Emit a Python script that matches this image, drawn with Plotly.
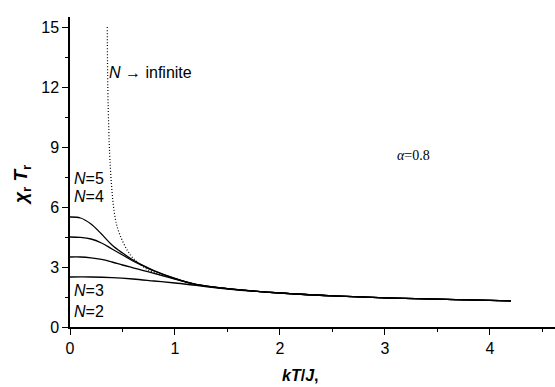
import plotly.graph_objects as go

# Data
x_n2 = [0.0, 0.2, 0.4, 0.6, 0.8, 1.0, 1.2, 1.5, 2.0, 2.5, 3.0, 3.5, 4.0, 4.2]
y_n2 = [2.5, 2.5, 2.47, 2.4, 2.3, 2.2, 2.08, 1.9, 1.7, 1.56, 1.46, 1.39, 1.33, 1.31]

x_n3 = [0.0, 0.1, 0.2, 0.3, 0.4, 0.5, 0.6, 0.7, 0.8, 1.0, 1.2, 1.5, 2.0, 2.5, 3.0, 3.5, 4.0, 4.2]
y_n3 = [3.5, 3.5, 3.46, 3.38, 3.25, 3.1, 2.96, 2.82, 2.68, 2.4, 2.12, 1.92, 1.7, 1.56, 1.46, 1.39, 1.33, 1.31]

x_n4 = [0.0, 0.1, 0.2, 0.3, 0.4, 0.5, 0.6, 0.7, 0.8, 1.0, 1.2, 1.5, 2.0, 2.5, 3.0, 3.5, 4.0, 4.2]
y_n4 = [4.5, 4.48, 4.4, 4.2, 3.9, 3.6, 3.3, 3.05, 2.8, 2.42, 2.13, 1.92, 1.7, 1.56, 1.46, 1.39, 1.33, 1.31]

x_n5 = [0.0, 0.1, 0.2, 0.3, 0.4, 0.5, 0.6, 0.7, 0.8, 1.0, 1.2, 1.5, 2.0, 2.5, 3.0, 3.5, 4.0, 4.2]
y_n5 = [5.5, 5.45, 5.15, 4.65, 4.1, 3.7, 3.35, 3.07, 2.82, 2.43, 2.13, 1.92, 1.7, 1.56, 1.46, 1.39, 1.33, 1.31]

x_inf = [0.355, 0.36, 0.37, 0.38, 0.40, 0.42, 0.45, 0.50, 0.55, 0.60, 0.70, 0.80, 1.0, 1.2, 1.5, 2.0, 2.5, 3.0, 3.5, 4.0, 4.2]
y_inf = [15.0, 12.0, 9.8, 8.4, 6.8, 5.8, 5.0, 4.3, 3.8, 3.45, 3.0, 2.72, 2.4, 2.13, 1.92, 1.7, 1.56, 1.46, 1.39, 1.33, 1.31]

x_ticks = [0, 1, 2, 3, 4]
y_ticks = [0, 3, 6, 9, 12, 15]

fig = go.Figure()
for xs, ys in [(x_n2, y_n2), (x_n3, y_n3), (x_n4, y_n4), (x_n5, y_n5)]:
    fig.add_trace(go.Scatter(x=xs, y=ys, mode="lines",
                             line=dict(shape="spline", color="black", width=1.3),
                             showlegend=False, hoverinfo="skip"))
fig.add_trace(go.Scatter(x=x_inf, y=y_inf, mode="lines",
                         line=dict(color="black", width=1.2, dash="1px,2px", shape="spline"),
                         showlegend=False, hoverinfo="skip"))

tickfont = dict(family="Liberation Sans, Arial, sans-serif", size=16, color="black")
fig.update_layout(
    width=555, height=387,
    margin=dict(l=70, r=0, t=17, b=60),
    paper_bgcolor="white", plot_bgcolor="white",
    xaxis=dict(range=[0, 4.62], tickvals=x_ticks, ticks="outside", ticklen=6, tickwidth=1.3,
               tickcolor="black", showline=True, linecolor="black", linewidth=1.5,
               showgrid=False, zeroline=False, tickfont=tickfont,
               minor=dict(dtick=0.5, ticks="outside", ticklen=3, tickcolor="black", tickwidth=1.2)),
    yaxis=dict(range=[0, 15.5], tickvals=y_ticks, ticks="outside", ticklen=6, tickwidth=1.3,
               tickcolor="black", showline=True, linecolor="black", linewidth=1.5,
               showgrid=False, zeroline=False, tickfont=tickfont,
               minor=dict(dtick=1.5, ticks="outside", ticklen=3, tickcolor="black", tickwidth=1.2)),
)

lab = dict(family="Liberation Sans, Arial, sans-serif", size=16, color="black")
def ann(x, y, text, font=lab):
    fig.add_annotation(x=x, y=y, xref="x", yref="y", text=text, showarrow=False,
                       xanchor="left", yanchor="middle", font=font)

ann(0.02, 7.45, "<i>N</i>=5")
ann(0.02, 6.55, "<i>N</i>=4")
ann(0.02, 1.85, "<i>N</i>=3")
ann(0.02, 0.8, "<i>N</i>=2")
ann(0.35, 12.75, "<i>N</i> \u2192 infinite")
ann(3.1, 8.6, "<i>\u03b1</i>=0.8",
    font=dict(family="Liberation Serif, Times New Roman, serif", size=14, color="black"))

fig.add_annotation(x=(300 - 70) / 485, y=-(376 - 327) / 310, xref="paper", yref="paper",
                   text="<b><i>kT</i>/<i>J</i>,</b>", showarrow=False,
                   xanchor="center", yanchor="middle",
                   font=dict(family="Liberation Sans, Arial, sans-serif", size=16, color="black"))
fig.add_annotation(x=-(70 - 22) / 485, y=(327 - 185) / 310, xref="paper", yref="paper",
                   text="<b><i>\u03c7</i><sub>r</sub> <i>T</i><sub>r</sub></b>", textangle=-90,
                   showarrow=False, xanchor="center", yanchor="middle",
                   font=dict(family="Liberation Sans, Arial, sans-serif", size=19, color="black"))

fig.write_html("out.html")
